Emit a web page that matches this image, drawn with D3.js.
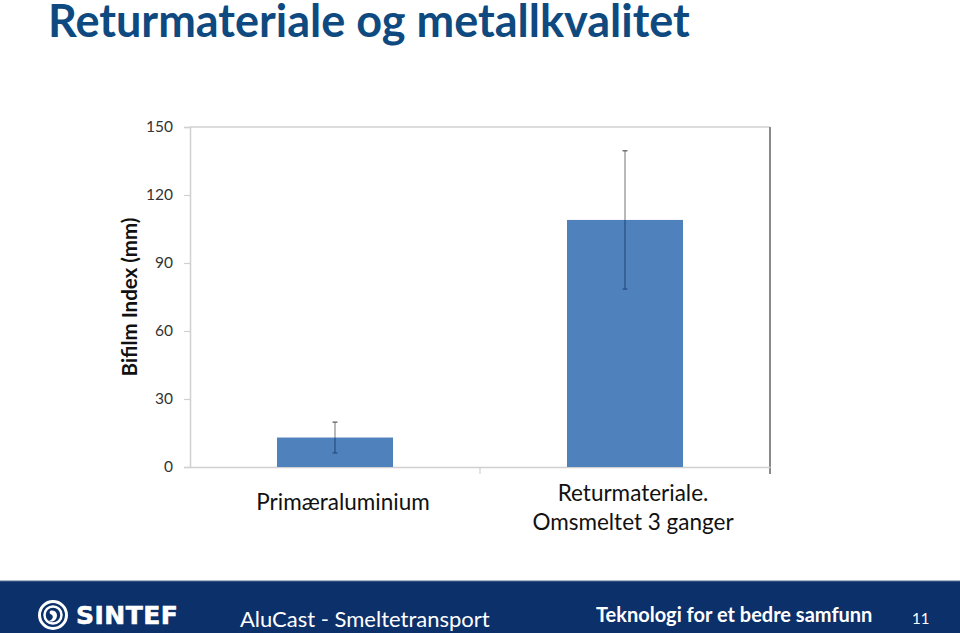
<!DOCTYPE html>
<html>
<head>
<meta charset="utf-8">
<script src="https://cdn.jsdelivr.net/npm/d3@7/dist/d3.min.js"></script>
<style>
  html, body { margin: 0; padding: 0; background: #ffffff; }
  svg { display: block; }
</style>
</head>
<body>
<svg id="chart" width="960" height="633" font-family="Lato, 'Open Sans', sans-serif"></svg>
<script>
// ---- data ----
const categories = ["Primæraluminium", "Returmateriale.\nOmsmeltet 3 ganger"];
const values = [13, 109];
const errors = [6.8, 30.5];
const yTicks = [0, 30, 60, 90, 120, 150];
const title = "Returmateriale og metallkvalitet";
const yLabel = "Bifilm Index (mm)";
const footerLeft = "AluCast - Smeltetransport";
const footerRight = "Teknologi for et bedre samfunn";
const pageNo = "11";

const svg = d3.select("#chart");
const W = 960, H = 633;
const plot = { left: 190, right: 770, top: 127, bottom: 467 };

// title
svg.append("text")
  .attr("x", 48).attr("y", 37)
  .attr("font-size", 45).attr("font-weight", 700)
  .attr("fill", "#0e4a80")
  .text(title);

const x = d3.scaleBand()
  .domain(categories)
  .range([plot.left, plot.right])
  .paddingInner(0.6).paddingOuter(0.3);
const xCat = d3.scaleBand().domain(categories).range([plot.left, plot.right]);
const y = d3.scaleLinear().domain([0, 150]).range([plot.bottom, plot.top]);

// top border
svg.append("line")
  .attr("x1", plot.left).attr("x2", plot.right)
  .attr("y1", y(150)).attr("y2", y(150))
  .attr("stroke", "#d0d0d0").attr("stroke-width", 1.5);
// right border
svg.append("line")
  .attr("x1", plot.right).attr("x2", plot.right)
  .attr("y1", y(150)).attr("y2", plot.bottom + 7)
  .attr("stroke", "#8a8a8a").attr("stroke-width", 2);

// y axis
const yAxis = svg.append("g")
  .attr("transform", `translate(${plot.left},0)`)
  .call(d3.axisLeft(y).tickValues(yTicks).tickSize(6).tickPadding(11));
yAxis.attr("font-family", null);
yAxis.select(".domain").attr("stroke", "#d0d0d0").attr("stroke-width", 1.5);
yAxis.selectAll(".tick line").attr("stroke", "#d0d0d0").attr("stroke-width", 1.2);
yAxis.selectAll(".tick text")
  .attr("font-size", 15.5).attr("fill", "#333");

// x axis
const xAxis = svg.append("g")
  .attr("transform", `translate(0,${plot.bottom})`)
  .call(d3.axisBottom(xCat).tickValues([]).tickSizeOuter(0));
xAxis.select(".domain").attr("stroke", "#d0d0d0").attr("stroke-width", 1.5);
// category separators
svg.append("g").selectAll("line")
  .data([xCat(categories[1])])
  .join("line")
  .attr("x1", d => d).attr("x2", d => d)
  .attr("y1", plot.bottom).attr("y2", plot.bottom + 7)
  .attr("stroke", "#d0d0d0").attr("stroke-width", 1.2);

// bars
svg.append("g").selectAll("rect")
  .data(categories)
  .join("rect")
  .attr("x", d => x(d))
  .attr("y", (d, i) => y(values[i]))
  .attr("width", x.bandwidth())
  .attr("height", (d, i) => plot.bottom - y(values[i]))
  .attr("fill", "#4f81bd");

// error bars
const eb = svg.append("g");
categories.forEach((c, i) => {
  const cx = x(c) + x.bandwidth() / 2;
  const top = y(values[i] + errors[i]);
  const bot = y(values[i] - errors[i]);
  const mid = y(values[i]);
  eb.append("line").attr("x1", cx).attr("x2", cx).attr("y1", top).attr("y2", mid)
    .attr("stroke", "#8a8a8a").attr("stroke-width", 1.2);
  eb.append("line").attr("x1", cx).attr("x2", cx).attr("y1", mid).attr("y2", bot)
    .attr("stroke", "#264d80").attr("stroke-width", 1.2);
  eb.append("line").attr("x1", cx - 2.5).attr("x2", cx + 2.5).attr("y1", top).attr("y2", top)
    .attr("stroke", "#555").attr("stroke-width", 1.2);
  eb.append("line").attr("x1", cx - 2.5).attr("x2", cx + 2.5).attr("y1", bot).attr("y2", bot)
    .attr("stroke", "#264d80").attr("stroke-width", 1.2);
});

// category labels
categories.forEach((c, i) => {
  const lines = c.split("\n");
  const cx = xCat(c) + xCat.bandwidth() / 2 + 8;
  const t = svg.append("text")
    .attr("text-anchor", "middle")
    .attr("font-size", 22.5).attr("fill", "#111");
  const y0 = lines.length === 1 ? 510 : 501;
  lines.forEach((ln, k) => {
    t.append("tspan").attr("x", cx).attr("y", y0 + k * 29).text(ln);
  });
});

// y label
svg.append("text")
  .attr("transform", "translate(137,297) rotate(-90)")
  .attr("text-anchor", "middle")
  .attr("font-size", 20.5).attr("font-weight", 700).attr("fill", "#111")
  .text(yLabel);

// footer
svg.append("rect").attr("x", 0).attr("y", 581).attr("width", W).attr("height", H - 581)
  .attr("fill", "#0c306a");
svg.append("line").attr("x1", 0).attr("x2", W).attr("y1", 581).attr("y2", 581)
  .attr("stroke", "#5a6f95").attr("stroke-width", 1);

// SINTEF logo
const logo = svg.append("g").attr("transform", "translate(53,615)");
logo.append("circle").attr("r", 13.5).attr("fill", "none").attr("stroke", "#fff").attr("stroke-width", 3);
logo.append("circle").attr("r", 8.5).attr("fill", "none").attr("stroke", "#fff").attr("stroke-width", 2.5);
logo.append("path").attr("d", "M-3,-4 C2,-6 6,-1 3,4 C1,7 -3,7 -4,6 C-1,5 1,2 -1,0 C-3,-1 -4,-2 -3,-4 Z").attr("fill", "#fff");
svg.append("text").attr("x", 76).attr("y", 624)
  .attr("font-family", "'DejaVu Sans', sans-serif")
  .attr("font-size", 25).attr("font-weight", 700).attr("fill", "#fff")
  .attr("letter-spacing", 0.5)
  .attr("stroke", "#fff").attr("stroke-width", 0.6)
  .text("SINTEF");

svg.append("text").attr("x", 240).attr("y", 627)
  .attr("font-size", 22).attr("fill", "#fff")
  .text(footerLeft);
svg.append("text").attr("x", 596).attr("y", 622)
  .attr("font-size", 20).attr("font-weight", 700).attr("fill", "#fff")
  .text(footerRight);
svg.append("text").attr("x", 912).attr("y", 624)
  .attr("font-size", 15).attr("fill", "#fff")
  .text(pageNo);
</script>
</body>
</html>
